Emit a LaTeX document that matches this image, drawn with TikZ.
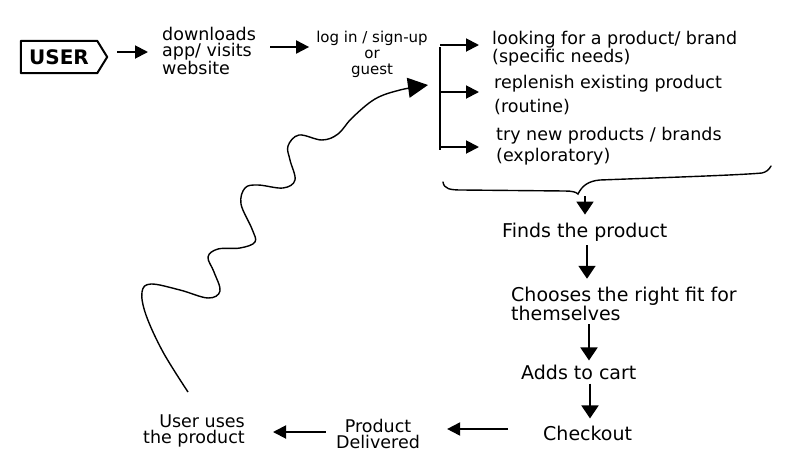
\documentclass[tikz,border=0pt]{standalone}
\usepackage{fontspec}
\setmainfont{DejaVu Sans}
\usetikzlibrary{arrows.meta,calc}
\begin{document}
\begin{tikzpicture}[x=1pt,y=-1pt,
  arr/.style={line width=1.9pt,-{Triangle[length=13pt,width=13pt]}},
  downarr/.style={line width=1.9pt,-{Triangle[length=13pt,width=17pt]}},
  wavearr/.style={line width=1.4pt,-{Triangle[length=20pt,width=20pt]}},
  txt/.style={inner sep=0pt,align=left,anchor=west},
  big/.style={font=\fontsize{19}{17}\selectfont},
  mid/.style={font=\fontsize{17.5}{16.5}\selectfont},
  sml/.style={font=\fontsize{15}{16}\selectfont},
  tag/.style={inner sep=0pt,minimum width=86pt,minimum height=32pt,font=\bfseries\fontsize{20}{20}\selectfont}
]
\useasboundingbox (0,0) rectangle (795,472);
\fill[white] (0,0) rectangle (795,472);

% USER tag
\node[tag] (user) at (64,57) {USER\hspace*{10pt}};
\draw[line width=2pt,line join=round] (user.north west) -- ([xshift=-10pt]user.north east) -- (user.east) -- ([xshift=-10pt]user.south east) -- (user.south west) -- cycle;

% top row texts
\node[txt,mid] (dl) at (162,51) {downloads\\app/ visits\\website};
\node[inner sep=0pt,align=center,sml] (login) at (372,54) {log in / sign-up\\or\\guest};

% options
\node[txt,mid] (opt1) at (492,49) {looking for a product/ brand\\(specific needs)};
\node[txt,mid] (opt2) at (494,95) {replenish existing product\\[7pt](routine)};
\node[txt,mid] (opt3) at (496,146) {try new products / brands\\[3pt](exploratory)};

% vertical chain
\node[txt,big] (finds) at (502,232) {Finds the product};
\node[txt,big] (choose) at (511,304) {Chooses the right fit for\\themselves};
\node[txt,big] (cart) at (521,372) {Adds to cart};
\node[txt,big] (checkout) at (543,433) {Checkout};
\node[inner sep=0pt,align=center,mid] (delivered) at (378,434) {Product\\Delivered};
\node[inner sep=0pt,align=right,anchor=east,mid] (uses) at (245,431) {User uses\\the product};

% arrows, top row
\draw[arr] ($(user.east)+(10,-5)$) -- ($(dl.west)+(-14,1)$);
\draw[arr] ($(dl.west)+(108,-4)$) -- ($(login.west)+(-7,-7)$);

% bracket to options
\draw[line width=1.8pt] ($(opt1.west)+(-52,-2)$) -- ($(opt3.west)+(-56,4)$);
\draw[arr] ($(opt1.west)+(-52,-4)$) -- ($(opt1.west)+(-13,-4)$);
\draw[arr] ($(opt2.west)+(-54,-3)$) -- ($(opt2.west)+(-15,-3)$);
\draw[arr] ($(opt3.west)+(-56,1)$) -- ($(opt3.west)+(-17,1)$);

% brace under the options
\coordinate (bracetip) at (585,196);
\draw[line width=1.4pt,line cap=round] (443,182) .. controls (444,189) and (450,190) .. (462,190)
  -- (565,191) .. controls (572,191) and (576,192) .. (578,194)
  .. controls (582,186) and (588,181) .. (600,180)
  .. controls (680,177) and (740,175) .. (762,173)
  .. controls (766,172) and (769,170) .. (771,166);

% vertical chain arrows
\draw[downarr,shorten >=8pt] (bracetip) -- (bracetip |- finds.north);
\draw[downarr,shorten <=4pt,shorten >=8pt] ([xshift=2pt]bracetip |- finds.south) -- ([xshift=2pt]bracetip |- choose.north);
\draw[downarr,shorten <=3pt,shorten >=4pt] ([xshift=4pt]bracetip |- choose.south) -- ([xshift=4pt]bracetip |- cart.north);
\draw[downarr,shorten <=4pt,shorten >=7pt] ([xshift=5pt]bracetip |- cart.south) -- ([xshift=5pt]bracetip |- checkout.north);

% bottom row arrows
\draw[arr,shorten <=35pt,shorten >=27pt] ([yshift=4pt]checkout.west) -- ([yshift=4pt]checkout.west -| delivered.east);
\draw[arr,shorten <=10pt,shorten >=28pt] ([yshift=2pt]delivered.west) -- ([yshift=2pt]delivered.west -| uses.east);

% wavy return arrow
\coordinate (wavestart) at (188,392);
\coordinate (waveend) at (428,85);
\draw[wavearr] plot[smooth,tension=0.6] coordinates {
  (wavestart) (163,352) (146,315) (142,292) (151,284) (180,290) (208,298)
  (220,291) (214,272) (208,257) (218,249) (240,248) (255,242)
  (252,229) (241,204) (245,188) (258,185) (283,188) (295,180)
  (290,160) (288,146) (299,135) (322,140) (338,134)
  (352,118) (375,99) (400,90) (waveend)};
\end{tikzpicture}
\end{document}
